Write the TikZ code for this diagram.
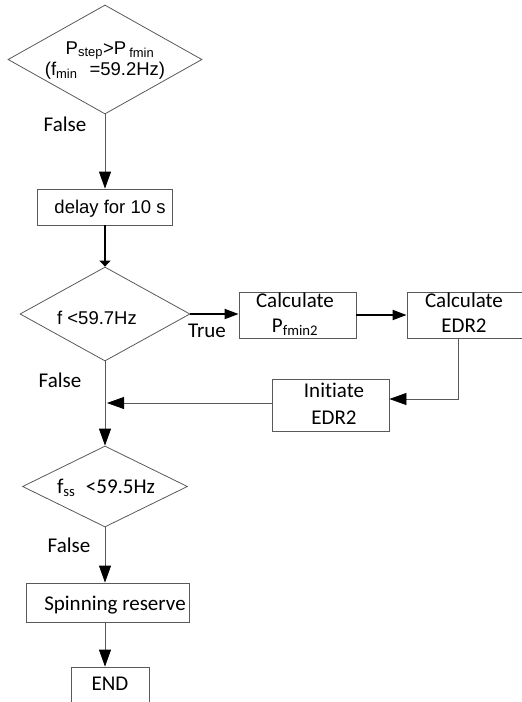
\documentclass[tikz,border=0pt]{standalone}
\usepackage{fontspec}
\setmainfont{Carlito}[Ligatures=NoCommon]
\newfontfamily\arial{Liberation Sans}
\usetikzlibrary{arrows.meta,shapes.geometric}
\begin{document}
\begin{tikzpicture}[x=1pt,y=-1pt,
  line/.style={draw=black!65, line width=0.8pt},
  boxnode/.style={draw=black!65, line width=0.8pt, rectangle, inner sep=0pt},
  dia/.style={draw=black!65, line width=0.8pt, diamond, inner sep=0pt},
  arr/.style={line, -{Triangle[width=12pt,length=17pt,color=black]}},
  thickarr/.style={draw=black, line width=1.8pt, -{Triangle[width=10pt,length=14pt]}},
  thickdown/.style={draw=black, line width=1.8pt, -{Triangle[width=11pt,length=6pt]}},
  cal/.style={font=\fontsize{21}{24}\selectfont, inner sep=0pt, anchor=base},
  ari/.style={font=\arial\fontsize{18.5}{21}\selectfont, inner sep=0pt, anchor=base}]
\useasboundingbox (0,0) rectangle (522,702);

% top decision
\node[dia, minimum width=194pt, minimum height=109pt] (d1) at (105,59.5) {};
\node[ari] (d1a) at (110,54) {P\textsubscript{step}>P\,\textsubscript{fmin}};
\node[ari] (d1b) at (105,75) {(f\textsubscript{min}\hspace{12pt}=59.2Hz)};
\node[cal] (f1) at (65,131) {False};

% delay
\node[boxnode, minimum width=135pt, minimum height=36pt] (delay) at (105,207) {};
\node[ari] (delayt) at (110,213) {delay for 10 s};

% second decision
\node[dia, minimum width=170pt, minimum height=94pt] (d2) at (105,314) {};
\node[ari] (d2t) at (97,324) {f <59.7Hz};
\node[cal] (tr) at (207,337) {True};

% calculate boxes
\node[boxnode, minimum width=117pt, minimum height=46pt] (c1) at (297.5,315) {};
\node[cal] (c1a) at (295,307) {Calculate};
\node[cal] (c1b) at (295,332) {P\textsubscript{fmin2}};

\node[boxnode, minimum width=117pt, minimum height=46pt] (c2) at (465.5,315) {};
\node[cal] (c2a) at (464,307) {Calculate};
\node[cal] (c2b) at (464,332) {EDR2};

\node[boxnode, minimum width=117pt, minimum height=52pt] (init) at (330.5,405) {};
\node[cal] (ia) at (334,397) {Initiate};
\node[cal] (ib) at (334,424) {EDR2};

\node[cal] (f2) at (60,387) {False};

% third decision
\node[dia, minimum width=165pt, minimum height=81pt] (d3) at (105,486.5) {};
\node[cal] (d3t) at (106,493) {f\textsubscript{ss}\enspace<59.5Hz};
\node[cal] (f3) at (69,552) {False};

% spinning reserve / end
\node[boxnode, minimum width=163pt, minimum height=39pt] (spin) at (107.5,602.5) {};
\node[cal] (spint) at (115,610) {Spinning reserve};
\node[boxnode, minimum width=78pt, minimum height=44pt] (endb) at (110,689) {};
\node[cal] (endt) at (110,690) {END};

\coordinate (m) at (105,403);

% connectors
\draw[arr] (d1.south) -- (delay.north);
\draw[thickdown] (delay.south) -- (d2.north);
\draw[thickarr] (d2.east) -- (d2.east -| c1.west);
\draw[thickarr] (c1.east) -- (c2.west);
\draw[arr] ([xshift=-7.5pt]c2.south) |- ([yshift=6pt]init.east);
\draw[arr] ([yshift=2pt]init.west) -- ([xshift=2pt]m);
\draw[arr] (d2.south) -- (d3.north);
\draw[arr] (d3.south) -- (d3.south |- spin.north);
\draw[arr] (d3.south |- spin.south) -- (d3.south |- endb.north);
\end{tikzpicture}
\end{document}
